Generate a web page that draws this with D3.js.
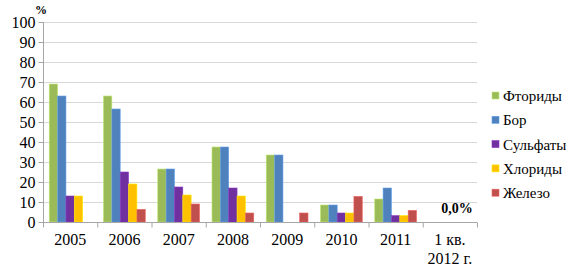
<!DOCTYPE html>
<html>
<head>
<meta charset="UTF-8">
</head>
<body style="margin:0">
<script src="https://cdn.jsdelivr.net/npm/d3@7"></script>
<script>
    var categories = ["2005", "2006", "2007", "2008", "2009", "2010", "2011", "1 кв.|2012 г."];
    var seriesNames = ["Фториды", "Бор", "Сульфаты", "Хлориды", "Железо"];
    var fluorides = [69, 63, 26.5, 37.5, 33.5, 8.5, 11.5, 0];
    var boron     = [63, 56.5, 26.5, 37.5, 33.5, 8.5, 17, 0];
    var sulfates  = [13, 25, 17.5, 17, 0, 4.5, 3.2, 0];
    var chlorides = [13, 19, 13.5, 13, 0, 4.5, 3.2, 0];
    var iron      = [0, 6.3, 9, 4.5, 4.5, 12.8, 5.8, 0];
    var yTicks = [0, 10, 20, 30, 40, 50, 60, 70, 80, 90, 100];
    var colors = ["#9bbb59", "#4f81bd", "#7030a0", "#ffc000", "#c0504d"];
    var series = [fluorides, boron, sulfates, chlorides, iron];

    var fontName = "Liberation Serif";
    var w = 582, h = 273;
    var mLeft = 43, mRight = 477, mTop = 22, mBottom = 222;

    var svg = d3.select("body").append("svg")
        .attr("width", w).attr("height", h);

    var x = d3.scaleBand().domain(categories).range([mLeft, mRight]).paddingInner(0.23).paddingOuter(0.115);
    var xs = d3.scaleBand().domain(d3.range(5)).range([0, x.bandwidth()]);
    var y = d3.scaleLinear().domain([0, 100]).range([mBottom, mTop]);

    // grid
    svg.append("g")
        .selectAll("line").data(yTicks.slice(1)).enter().append("line")
        .attr("stroke", "#d9d9d9")
        .attr("x1", mLeft).attr("x2", mRight)
        .attr("y1", d => y(d) + 0.5).attr("y2", d => y(d) + 0.5);

    // bars
    var groups = svg.append("g").selectAll("g").data(categories).enter().append("g")
        .attr("transform", d => `translate(${x(d)},0)`);
    groups.selectAll("rect")
        .data((d, i) => series.map((s, k) => ({ k: k, v: s[i] })).filter(e => e.v > 0))
        .enter().append("rect")
        .attr("x", d => xs(d.k))
        .attr("width", xs.bandwidth())
        .attr("y", d => y(d.v))
        .attr("height", d => y(0) - y(d.v))
        .attr("fill", d => colors[d.k])
        .attr("stroke", d => d3.color(colors[d.k]).brighter(0.6))
        .attr("stroke-width", 0.6);

    // y axis
    var yAxis = d3.axisLeft(y).tickValues(yTicks).tickSize(5).tickPadding(3);
    var gy = svg.append("g").attr("transform", `translate(${mLeft + 0.5},0)`).call(yAxis)
        .attr("font-family", fontName).attr("font-size", 16);
    gy.select(".domain").attr("stroke", "#a6a6a6").attr("d", `M0,${y(100)}V${y(0)}`);
    gy.selectAll(".tick line").attr("stroke", "#a6a6a6");
    gy.selectAll(".tick text").attr("fill", "#000");

    // x axis
    var gx = svg.append("g").attr("transform", `translate(0,${mBottom + 0.5})`);
    gx.append("line").attr("x1", mLeft).attr("x2", mRight).attr("stroke", "#a6a6a6");
    var bounds = categories.map((c, i) => mLeft + i * (mRight - mLeft) / categories.length).concat([mRight]);
    gx.selectAll(".t").data(bounds).enter().append("line")
        .attr("x1", d => d + 0.5).attr("x2", d => d + 0.5).attr("y1", 0).attr("y2", 5)
        .attr("stroke", "#a6a6a6");
    gx.selectAll("text.lbl").data(categories).enter().append("text")
        .attr("class", "lbl")
        .attr("text-anchor", "middle")
        .attr("font-family", fontName).attr("font-size", 16)
        .attr("transform", d => `translate(${x(d) + x.bandwidth() / 2},0)`)
        .selectAll("tspan").data(d => d.split("|")).enter().append("tspan")
        .attr("x", 0).attr("y", (d, i) => 22 + i * 19).text(d => d);

    // zero label
    svg.append("text").attr("x", 457).attr("y", 213).attr("text-anchor", "middle")
        .attr("font-family", fontName).attr("font-size", 14).attr("font-weight", "bold").text("0,0%");

    // unit
    svg.append("text").attr("x", 35).attr("y", 14)
        .attr("font-family", fontName).attr("font-size", 12).attr("font-weight", "bold").text("%");

    // legend
    var lg = svg.append("g").selectAll("g").data(seriesNames).enter().append("g")
        .attr("transform", (d, i) => `translate(492,${96 + i * 24.3})`);
    lg.append("rect").attr("x", 0).attr("y", -4).attr("width", 7).attr("height", 7)
        .attr("fill", (d, i) => colors[i])
        .attr("stroke", (d, i) => d3.color(colors[i]).brighter(0.6)).attr("stroke-width", 0.6);
    lg.append("text").attr("x", 11).attr("y", 5)
        .attr("font-family", fontName).attr("font-size", 15).text(d => d);
</script>
</body>
</html>
